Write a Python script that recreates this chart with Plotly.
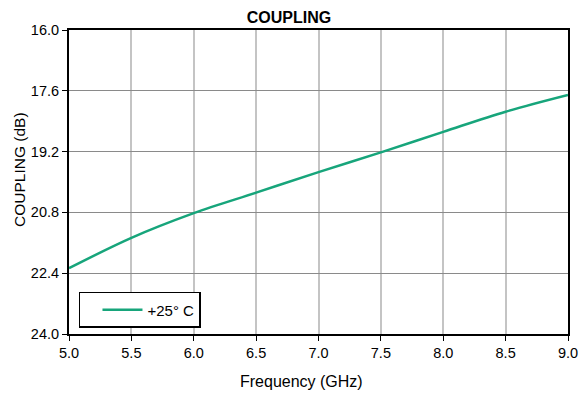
import plotly.graph_objects as go

freq = [5.0, 5.5, 6.0, 6.5, 7.0, 7.5, 8.0, 8.5, 9.0]
coupling = [22.27, 21.47, 20.82, 20.28, 19.74, 19.22, 18.68, 18.15, 17.71]
series_name = "+25° C"
y_ticks = [16.0, 17.6, 19.2, 20.8, 22.4, 24.0]
x_ticks = [5.0, 5.5, 6.0, 6.5, 7.0, 7.5, 8.0, 8.5, 9.0]

FONT = "Liberation Sans, Arial, sans-serif"
W, H = 579, 394

fig = go.Figure()
fig.add_trace(go.Scatter(x=freq, y=coupling, mode="lines", name=series_name,
                         line=dict(color="#17a57b", width=2.5, shape="spline")))

fig.update_layout(
    width=W, height=H,
    margin=dict(l=69, r=11, t=30, b=60, autoexpand=False),
    paper_bgcolor="white", plot_bgcolor="white",
    font=dict(family=FONT, size=14.5, color="black"),
    title=dict(text="<b>COUPLING</b>", x=289 / W, xanchor="center",
               y=1 - 17 / H, yanchor="middle", font=dict(size=16, family=FONT)),
    showlegend=True,
    legend=dict(x=0.02, y=0.02, xanchor="left", yanchor="bottom",
                bordercolor="black", borderwidth=1.5, bgcolor="white",
                font=dict(size=15, family=FONT), indentation=17,
                entrywidth=110, itemwidth=40),
    annotations=[
        dict(text="Frequency (GHz)", xref="paper", yref="paper",
             x=(301 - 69) / 499, y=-(381 - 334) / 304, xanchor="center", yanchor="middle",
             showarrow=False, font=dict(size=16, family=FONT)),
        dict(text="COUPLING (dB)", xref="paper", yref="paper",
             x=-(69 - 19) / 499, y=(334 - 170) / 304, xanchor="center", yanchor="middle",
             textangle=-90, showarrow=False, font=dict(size=15.5, family=FONT)),
    ],
)
fig.update_xaxes(range=[5.0, 9.0], tickvals=x_ticks, ticktext=[f"{v:.1f}" for v in x_ticks],
                 showgrid=True, gridcolor="#c4c4c4", gridwidth=1.5,
                 showline=True, linecolor="black", linewidth=2, mirror=True,
                 ticks="outside", ticklen=5, tickcolor="black", automargin=False,
                 zeroline=False)
fig.update_yaxes(range=[24.0, 16.0], tickvals=y_ticks, ticktext=[f"{v:.1f}" for v in y_ticks],
                 showgrid=True, gridcolor="#8a8a8a", gridwidth=1.2,
                 showline=True, linecolor="black", linewidth=2, mirror=True,
                 ticks="outside", ticklen=5, tickcolor="black", automargin=False,
                 zeroline=False)

fig.write_html("out.html", config={"displayModeBar": False},
               post_script="document.body.style.margin='0';")
